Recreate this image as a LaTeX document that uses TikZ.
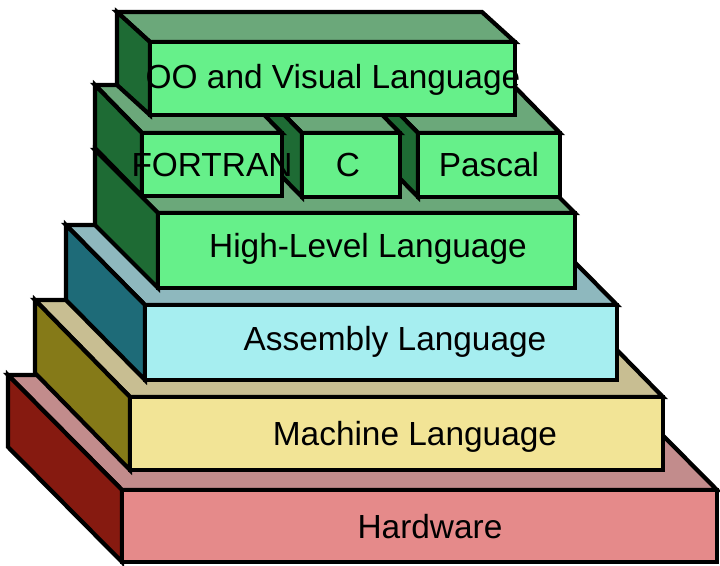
\documentclass[tikz,border=0pt]{standalone}
\usepackage{fontspec}
\setmainfont{Liberation Sans}
\definecolor{hwF}{HTML}{E58A8A}\definecolor{hwS}{HTML}{861A10}\definecolor{hwT}{HTML}{C28C8C}
\definecolor{mlF}{HTML}{F2E496}\definecolor{mlS}{HTML}{857A18}\definecolor{mlT}{HTML}{C8BE92}
\definecolor{alF}{HTML}{A6EEF0}\definecolor{alS}{HTML}{1E6B78}\definecolor{alT}{HTML}{8EB8BE}
\definecolor{glF}{HTML}{66F08A}\definecolor{glS}{HTML}{1E6B34}\definecolor{glT}{HTML}{6BA87A}
% \slab{prefix}{x1}{y1}{x2}{y2}{dx}{dy}: front face plus top and left faces
\newcommand\slab[7]{%
  \draw[face,fill=#1T] (#2,#3) -- (#4,#3) -- ++(-#6,-#7) -- ($(#2,#3)+(-#6,-#7)$) -- cycle;
  \draw[face,fill=#1S] (#2,#3) -- (#2,#5) -- ++(-#6,-#7) -- ($(#2,#3)+(-#6,-#7)$) -- cycle;
  \draw[face,fill=#1F] (#2,#3) rectangle (#4,#5);}
\usetikzlibrary{calc}
\begin{document}
\begin{tikzpicture}[x=0.01cm,y=-0.01cm,
    face/.style={draw=black,line width=1.2pt,line join=miter},
    label/.style={font=\fontsize{9.5}{11}\selectfont}]
  \useasboundingbox (0,0) rectangle (720,566);
  % layers, bottom to top
  \slab{hw}{122}{490}{717}{562}{114}{115}
  \slab{ml}{130}{397}{663}{470}{95}{97}
  \slab{al}{145}{305}{617}{380}{79}{80}
  \slab{gl}{158}{213}{575}{288}{63}{63}
  \slab{gl}{418}{133}{560}{197}{47}{48}
  \slab{gl}{302}{133}{400}{197}{47}{48}
  \slab{gl}{142}{133}{282}{196}{47}{48}
  \slab{gl}{150}{42}{515}{115}{33}{30}
  % texts
  \node[label] (hw) at (430,527) {Hardware};
  \node[label] (ml) at (415,437) {Machine Language};
  \node[label] (al) at (395,342) {Assembly Language};
  \node[label] (hl) at (368,249) {High-Level Language};
  \node[label] (ft) at (212,165) {FORTRAN};
  \node[label] (c) at (348,165) {C};
  \node[label] (pa) at (489,165) {Pascal};
  \node[label] (oo) at (333,80) {OO and Visual Language};
\end{tikzpicture}
\end{document}
